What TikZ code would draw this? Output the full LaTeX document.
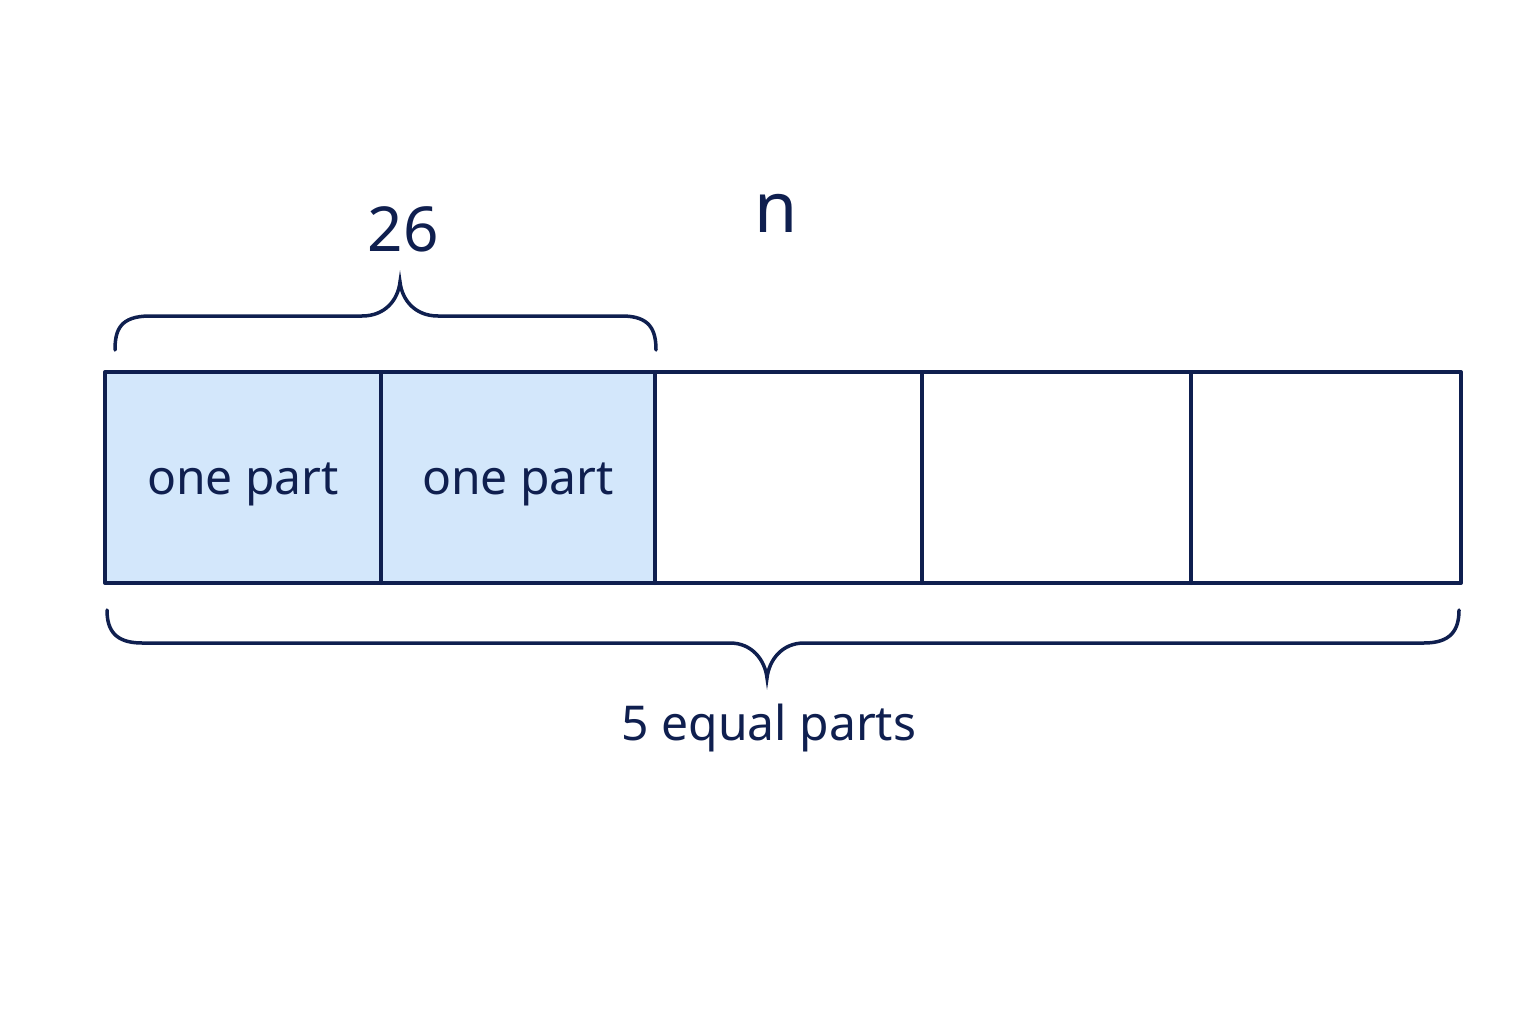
\documentclass[tikz,border=0pt]{standalone}
\usepackage{fontspec}
\setmainfont{Noto Sans}
\definecolor{navy}{HTML}{0F1F4F}
\definecolor{lblue}{HTML}{D3E7FB}
\begin{document}
\begin{tikzpicture}[x=1pt,y=-1pt,
  ln/.style={draw=navy,line width=4pt,line join=round,line cap=round},
  br/.style={draw=navy,line width=3.5pt,line cap=round},
  lab/.style={text=navy,font=\fontsize{48}{52}\selectfont}]
\useasboundingbox[fill=white] (0,0) rectangle (1536,1024);
\fill[lblue] (105,372) rectangle (655,583);
\draw[ln] (105,372) rectangle (1461,583);
\foreach \x in {381,655,922,1191}{\draw[ln] (\x,372) -- (\x,583);}
\node[lab] (p1) at (243,484) {one part};
\node[lab] (p2) at (518,484) {one part};
% top brace
\draw[br] (115,350) .. controls (115,330) and (120,316) .. (150,316) -- (362,316)
  .. controls (385,316) and (398,300) .. (400,282)
  .. controls (402,300) and (415,316) .. (438,316) -- (622,316)
  .. controls (650,316) and (656,330) .. (656,350);
\node[text=navy,font=\fontsize{62}{66}\selectfont] (t26) at (403,229) {26};
\node[text=navy,font=\fontsize{70}{74}\selectfont] (n) at (776,213) {n};
% bottom brace
\draw[br] (107,610) .. controls (107,630) and (115,643) .. (142,643) -- (730,643)
  .. controls (752,643) and (765,660) .. (767,678)
  .. controls (769,660) and (782,643) .. (804,643) -- (1424,643)
  .. controls (1451,643) and (1459,630) .. (1459,610);
\node[lab] (eq) at (769,728) {5 equal parts};
\end{tikzpicture}
\end{document}
